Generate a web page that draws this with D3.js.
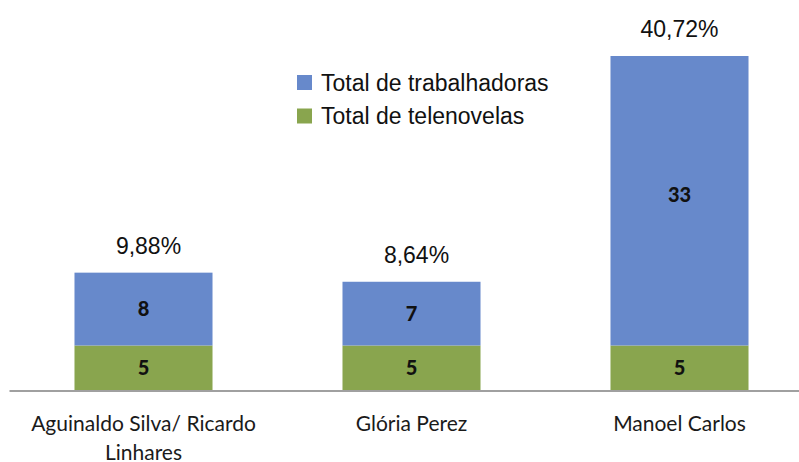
<!DOCTYPE html>
<html>
<head>
<meta charset="utf-8">
<script src="https://cdn.jsdelivr.net/npm/d3@7"></script>
<style>
  html, body { margin: 0; padding: 0; background: #ffffff; }
  svg { display: block; }
</style>
</head>
<body>
<svg id="chart" width="799" height="462"></svg>
<script>
// ---- data ----
const categories = [["Aguinaldo Silva/ Ricardo", "Linhares"], ["Glória Perez"], ["Manoel Carlos"]];
const telenovelas = [5, 5, 5];
const trabalhadoras = [8, 7, 33];
const percentLabels = ["9,88%", "8,64%", "40,72%"];
const seriesNames = ["Total de trabalhadoras", "Total de telenovelas"];
const yMax = 36.8; // axis maximum (tallest bar is cut at the plot top)

// ---- layout ----
const svg = d3.select("#chart");
const plot = { left: 9.5, right: 813.5, top: 56, bottom: 391 };
const colors = { trab: "#6789CB", tele: "#89A54E" };

const keys = categories.map((c, i) => i);
const x = d3.scaleBand().domain(keys).range([plot.left, plot.right])
  .paddingInner(0.485).paddingOuter(0.2425);
const y = d3.scaleLinear().domain([0, yMax]).range([plot.bottom, plot.top]).clamp(true);
const yFree = y.copy().clamp(false);

const stackData = keys.map(i => ({ i, tele: telenovelas[i], trab: trabalhadoras[i] }));
const stacked = d3.stack().keys(["tele", "trab"])(stackData);

// bars
const g = svg.append("g");
stacked.forEach(layer => {
  g.selectAll(null).data(layer).enter().append("rect")
    .attr("x", d => x(d.data.i))
    .attr("width", x.bandwidth())
    .attr("y", d => y(d[1]))
    .attr("height", d => y(d[0]) - y(d[1]))
    .attr("fill", colors[layer.key]);
});

// axis line
svg.append("line")
  .attr("x1", plot.left).attr("x2", 799)
  .attr("y1", plot.bottom).attr("y2", plot.bottom)
  .attr("stroke", "#a0a0a0").attr("stroke-width", 2);

// data labels
stacked.forEach(layer => {
  g.selectAll(null).data(layer).enter().append("text")
    .attr("x", d => x(d.data.i) + x.bandwidth() / 2)
    .attr("y", d => yFree((d[0] + d[1]) / 2) + 7)
    .attr("text-anchor", "middle")
    .attr("font-family", "Lato, 'Liberation Sans', sans-serif")
    .attr("font-weight", "900")
    .attr("font-size", 20)
    .attr("fill", "#111")
    .text(d => d[1] - d[0]);
});

// percent labels
svg.selectAll(null).data(keys).enter().append("text")
  .attr("x", i => x(i) + x.bandwidth() / 2 + (i < 2 ? 5 : 0))
  .attr("y", i => y(telenovelas[i] + trabalhadoras[i]) - 19)
  .attr("text-anchor", "middle")
  .attr("font-family", "'Liberation Sans', Arial, sans-serif")
  .attr("font-size", 23)
  .attr("fill", "#111")
  .text(i => percentLabels[i]);

// category labels
const cat = svg.selectAll(null).data(keys).enter().append("text")
  .attr("text-anchor", "middle")
  .attr("font-family", "Lato, 'Noto Sans', sans-serif")
  .attr("font-size", 21)
  .attr("fill", "#1a1a1a");
cat.each(function(i) {
  const t = d3.select(this);
  categories[i].forEach((line, k) => {
    t.append("tspan")
      .attr("x", x(i) + x.bandwidth() / 2)
      .attr("y", 431 + k * 28.5)
      .text(line);
  });
});

// legend
const legendData = [
  { name: seriesNames[0], color: colors.trab },
  { name: seriesNames[1], color: colors.tele }
];
const lg = svg.append("g").attr("transform", "translate(297,75)");
const li = lg.selectAll(null).data(legendData).enter().append("g")
  .attr("transform", (d, k) => `translate(0,${k * 33.5})`);
li.append("rect").attr("width", 15).attr("height", 15).attr("fill", d => d.color);
li.append("text")
  .attr("x", 24).attr("y", 15.5)
  .attr("font-family", "'Liberation Sans', Arial, sans-serif")
  .attr("font-size", 23)
  .attr("fill", "#111")
  .text(d => d.name);
</script>
</body>
</html>
